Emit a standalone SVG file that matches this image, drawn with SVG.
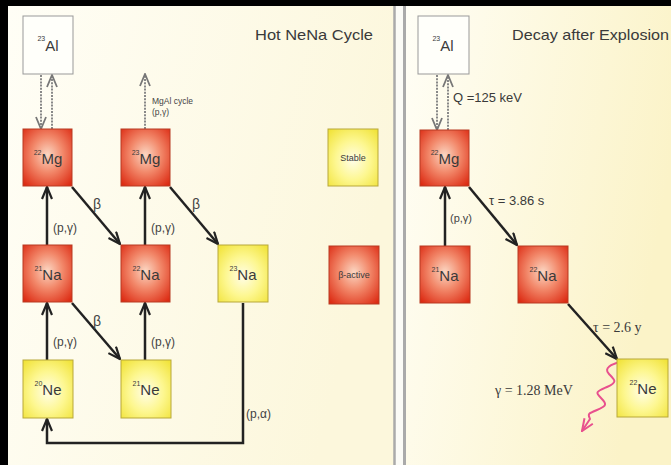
<svg xmlns="http://www.w3.org/2000/svg" width="671" height="465" viewBox="0 0 671 465">
<defs>
<linearGradient id="bgL" x1="0" y1="0" x2="1" y2="0.3">
<stop offset="0" stop-color="#fffef6"/><stop offset="1" stop-color="#fcf7dc"/>
</linearGradient>
<linearGradient id="bgR" x1="0" y1="0" x2="1" y2="0.3">
<stop offset="0" stop-color="#fffef6"/><stop offset="1" stop-color="#fbf3c8"/>
</linearGradient>
<radialGradient id="red" cx="0.5" cy="0.45" r="0.7">
<stop offset="0" stop-color="#fbd6c2"/><stop offset="0.45" stop-color="#f2886a"/><stop offset="1" stop-color="#dc2a12"/>
</radialGradient>
<radialGradient id="yel" cx="0.5" cy="0.55" r="0.7">
<stop offset="0" stop-color="#fffde8"/><stop offset="0.5" stop-color="#fdf790"/><stop offset="1" stop-color="#f1e33a"/>
</radialGradient>
<marker id="ah" markerUnits="userSpaceOnUse" viewBox="0 0 14 12" refX="13" refY="6" markerWidth="14" markerHeight="12" orient="auto">
<path d="M1,1 L13,6 L1,11" fill="none" stroke="#222" stroke-width="2.2"/>
</marker>
<marker id="ahg" markerUnits="userSpaceOnUse" viewBox="0 0 14 12" refX="13" refY="6" markerWidth="14" markerHeight="12" orient="auto">
<path d="M1,1 L13,6 L1,11" fill="none" stroke="#777" stroke-width="1.8"/>
</marker>
<marker id="ahp" markerUnits="userSpaceOnUse" viewBox="0 0 14 12" refX="13" refY="6" markerWidth="14" markerHeight="12" orient="auto">
<path d="M1,1 L13,6 L1,11" fill="none" stroke="#e8508e" stroke-width="2"/>
</marker>
</defs>
<style>
.t{font-family:"Liberation Sans",Arial,sans-serif;fill:#3a3a3a}
.s{font-family:"Liberation Serif","Times New Roman",serif;fill:#3a3a3a}
.red{fill:url(#red);stroke:#b83a22;stroke-width:1}
.yel{fill:url(#yel);stroke:#b8a83a;stroke-width:1}
.wht{fill:#fffffa;stroke:#999;stroke-width:1}
.sol{fill:none;stroke:#222;stroke-width:2.5;marker-end:url(#ah)}
.dsh{fill:none;stroke:#888;stroke-width:2;stroke-dasharray:2,1.2;marker-end:url(#ahg)}
.lbl{font-family:"Liberation Sans",Arial,sans-serif;fill:#444;font-size:12px}
.nm{font-size:15px}
.sup{font-size:7px}
</style>
<rect x="0" y="0" width="671" height="465" fill="#000"/>
<rect x="8" y="6" width="386" height="470" fill="url(#bgL)"/>
<rect x="404" y="6" width="270" height="470" fill="url(#bgR)"/>
<rect x="394" y="6" width="10" height="470" fill="#fbfbf6"/>
<line x1="394.5" y1="6" x2="394.5" y2="465" stroke="#aaa" stroke-width="2.5"/>
<line x1="404.5" y1="6" x2="404.5" y2="465" stroke="#aaa" stroke-width="3"/>

<text class="t" x="255" y="40" font-size="15" textLength="118" lengthAdjust="spacingAndGlyphs">Hot NeNa Cycle</text>
<text class="t" x="512" y="40" font-size="15" textLength="157" lengthAdjust="spacingAndGlyphs">Decay after Explosion</text>

<g id="connectors">
<path class="dsh" d="M41,75 V129"/>
<path class="dsh" d="M52,129 V75"/>
<path class="dsh" d="M145,129 V74"/>
<path class="sol" d="M47,245 V187"/>
<path class="sol" d="M72,187 L120,244"/>
<path class="sol" d="M145,245 V187"/>
<path class="sol" d="M170,187 L218,244"/>
<path class="sol" d="M47,360 V303"/>
<path class="sol" d="M72,303 L120,359"/>
<path class="sol" d="M145,360 V303"/>
<path class="sol" d="M243,303 V443 H47 V419"/>
<path class="dsh" d="M437,75 V130"/>
<path class="dsh" d="M448,130 V75"/>
<path class="sol" d="M445,246 V187"/>
<path class="sol" d="M469,187 L517,245"/>
<path class="sol" d="M568,304 L617,359"/>
<path d="M620,362 C612,364 603,368 609,374 S 618,382 607,387 S 595,392 601,398 S 607,406 597,410 S 588,414 590,419 L 582,431" fill="none" stroke="#e8508e" stroke-width="2" marker-end="url(#ahp)"/>
<text class="lbl" x="152" y="104" style="font-size:8.5px">MgAl cycle</text>
<text class="lbl" x="152" y="115" style="font-size:8.5px">(p,γ)</text>
<text class="lbl" x="53" y="232">(p,γ)</text>
<text class="lbl" x="151" y="232">(p,γ)</text>
<text class="lbl" x="53" y="346">(p,γ)</text>
<text class="lbl" x="151" y="346">(p,γ)</text>
<text class="lbl" x="93" y="209" style="font-size:14px">β</text>
<text class="lbl" x="192" y="209" style="font-size:14px">β</text>
<text class="lbl" x="93" y="326" style="font-size:14px">β</text>
<text class="lbl" x="246" y="418">(p,α)</text>
<text class="t" x="453" y="102" font-size="13">Q =125 keV</text>
<text class="lbl" x="450" y="222" style="font-size:11px">(p,γ)</text>
<text class="t" x="489" y="205" font-size="13">τ = 3.86 s</text>
<text class="s" x="593" y="332" font-size="14">τ = 2.6 y</text>
<text class="s" x="495" y="395" font-size="14">γ = 1.28 MeV</text>
</g>

<g id="n-al23-l"><rect class="wht" x="23" y="16" width="50" height="58"/>
<text class="t" x="48" y="51" text-anchor="middle"><tspan class="sup" dy="-10">23</tspan><tspan class="nm" dy="10">Al</tspan></text></g>
<g id="n-mg22-l"><rect class="red" x="23" y="129" width="49" height="57"/>
<text class="t" x="48" y="164" text-anchor="middle"><tspan class="sup" dy="-9">22</tspan><tspan class="nm" dy="9">Mg</tspan></text></g>
<g id="n-mg23-l"><rect class="red" x="121" y="129" width="49" height="57"/>
<text class="t" x="146" y="164" text-anchor="middle"><tspan class="sup" dy="-9">23</tspan><tspan class="nm" dy="9">Mg</tspan></text></g>
<g id="n-stable"><rect class="yel" x="328" y="129" width="50" height="57"/>
<text class="t" x="353" y="161" text-anchor="middle" font-size="9">Stable</text></g>
<g id="n-na21-l"><rect class="red" x="23" y="245" width="49" height="57"/>
<text class="t" x="48" y="280" text-anchor="middle"><tspan class="sup" dy="-9">21</tspan><tspan class="nm" dy="9">Na</tspan></text></g>
<g id="n-na22-l"><rect class="red" x="121" y="245" width="49" height="57"/>
<text class="t" x="146" y="280" text-anchor="middle"><tspan class="sup" dy="-9">22</tspan><tspan class="nm" dy="9">Na</tspan></text></g>
<g id="n-na23-l"><rect class="yel" x="218" y="245" width="50" height="57"/>
<text class="t" x="243" y="280" text-anchor="middle"><tspan class="sup" dy="-9">23</tspan><tspan class="nm" dy="9">Na</tspan></text></g>
<g id="n-bactive"><rect class="red" x="329" y="246" width="50" height="58"/>
<text class="t" x="354" y="278" text-anchor="middle" font-size="9">β-active</text></g>
<g id="n-ne20-l"><rect class="yel" x="23" y="360" width="50" height="58"/>
<text class="t" x="48" y="395" text-anchor="middle"><tspan class="sup" dy="-9">20</tspan><tspan class="nm" dy="9">Ne</tspan></text></g>
<g id="n-ne21-l"><rect class="yel" x="121" y="360" width="50" height="58"/>
<text class="t" x="146" y="395" text-anchor="middle"><tspan class="sup" dy="-9">21</tspan><tspan class="nm" dy="9">Ne</tspan></text></g>

<g id="n-al23-r"><rect class="wht" x="418" y="16" width="51" height="58"/>
<text class="t" x="443" y="51" text-anchor="middle"><tspan class="sup" dy="-10">23</tspan><tspan class="nm" dy="10">Al</tspan></text></g>
<g id="n-mg22-r"><rect class="red" x="420" y="130" width="49" height="56"/>
<text class="t" x="445" y="164" text-anchor="middle"><tspan class="sup" dy="-9">22</tspan><tspan class="nm" dy="9">Mg</tspan></text></g>
<g id="n-na21-r"><rect class="red" x="420" y="246" width="50" height="57"/>
<text class="t" x="445" y="281" text-anchor="middle"><tspan class="sup" dy="-9">21</tspan><tspan class="nm" dy="9">Na</tspan></text></g>
<g id="n-na22-r"><rect class="red" x="518" y="246" width="50" height="57"/>
<text class="t" x="543" y="281" text-anchor="middle"><tspan class="sup" dy="-9">22</tspan><tspan class="nm" dy="9">Na</tspan></text></g>
<g id="n-ne22-r"><rect class="yel" x="617" y="359" width="51" height="58"/>
<text class="t" x="643" y="394" text-anchor="middle"><tspan class="sup" dy="-9">22</tspan><tspan class="nm" dy="9">Ne</tspan></text></g>
</svg>
